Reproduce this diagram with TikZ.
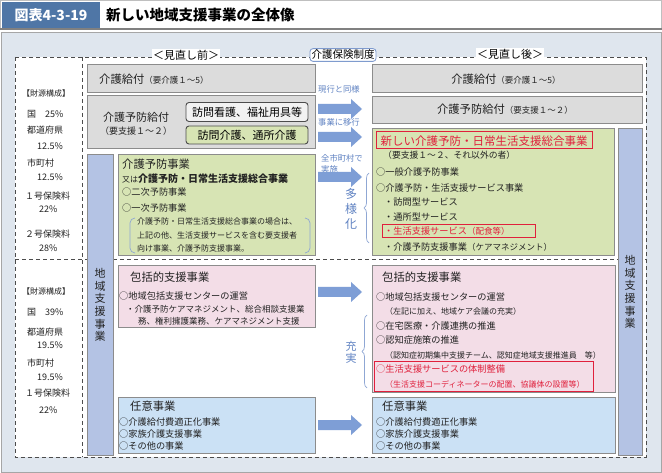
\documentclass[tikz,border=0pt]{standalone}
\usepackage{fontspec}
\setmainfont{Noto Sans CJK JP}
\usetikzlibrary{fit,decorations.pathreplacing}
\definecolor{titleblue}{HTML}{4F76A6}
\definecolor{panelbg}{HTML}{DFE6EE}
\definecolor{boxgray}{HTML}{DCDCDC}
\definecolor{boxgreen}{HTML}{D7E4B4}
\definecolor{boxpink}{HTML}{F3DDE7}
\definecolor{boxblue}{HTML}{CBE1F5}
\definecolor{barblue}{HTML}{B4C3E4}
\definecolor{arrowblue}{HTML}{7E9ED6}
\definecolor{notetext}{HTML}{5F82C2}
\definecolor{alertred}{HTML}{E0203C}
\definecolor{edgegray}{HTML}{8C8C8C}
\definecolor{inktext}{HTML}{222222}
\newcommand\fsz[1]{\fontsize{#1}{#1}\selectfont}
\tikzset{
  plate/.style={inner sep=0pt, draw=edgegray, line width=.8pt, fit={#1}},
  tagbox/.style={inner sep=0pt, draw=#1, line width=.9pt, rounded corners=3pt},
  alertbox/.style={inner sep=0pt, draw=alertred, line width=1pt, fit={#1}},
  fence/.style={draw=black!70, line width=.6pt, dash pattern=on 4pt off 3pt},
  txthead/.style={anchor=west, inner sep=0pt, text=inktext, font=\fsz{11.3}},
  txtbody/.style={anchor=west, inner sep=0pt, text=inktext, font=\fsz{9.2}},
  txtsmall/.style={anchor=west, inner sep=0pt, text=inktext, font=\fsz{8}},
  txtfin/.style={anchor=west, inner sep=0pt, text=inktext, font=\fsz{9}},
  txtnote/.style={anchor=west, inner sep=0pt, text=notetext, font=\fsz{8.3}},
  txtvert/.style={inner sep=0pt, align=center, text=#1, font=\fontsize{11}{12.6}\selectfont},
  txtvert/.default=inktext,
  bracketline/.style={draw=notetext!70, line width=.7pt},
  bracenote/.style={draw=notetext!70, line width=.7pt, decorate,
    decoration={brace, amplitude=5pt}},
  fatarrow/.pic={
    \fill[arrowblue] (0,-5) -- (33,-5) -- (33,-10) -- (44,0) -- (33,10) -- (33,5) -- (0,5) -- cycle;
  },
}

\begin{document}
\begin{tikzpicture}[x=1pt,y=-1pt]
\useasboundingbox (0,0) rectangle (662,473);

% title row
\draw[gray!50] (0.5,0.5) rectangle (661.5,29);
\draw[gray, line width=1.2pt] (0,29) -- (662,29);
\node[fill=titleblue, minimum width=98pt, minimum height=26pt, inner sep=0pt,
  text=white, font=\bfseries\fsz{14}] (tag) at (51,15) {図表4-3-19};
\node[anchor=west, inner sep=0pt, font=\bfseries\fsz{14.5}] (title) at (106,15) {新しい地域支援事業の全体像};

% panel and dashed frame
\node[plate={(1,32) (661,472)}, fill=panelbg, draw=gray!70] (panel) {};
\draw[fence, fill=white] (15,57) rectangle (646,457);
\draw[fence] (82,57) -- (82,457) (15,259) -- (646,259);
\node[fill=white, inner sep=1pt, font=\fsz{11}] (before) at (186,55) {＜見直し前＞};
\node[fill=white, inner sep=1pt, font=\fsz{11}] (after) at (510,54) {＜見直し後＞};
\node[tagbox=notetext!80, fill=white, inner sep=1.5pt, font=\fsz{10.5}] (seido) at (343,55) {介護保険制度};

% finance, upper
\node[txtsmall] (finA0) at (22,93) {【財源構成】};
\node[txtfin] (finA1) at (27,114) {国\quad 25\%};
\node[txtfin] (finA2) at (27,130) {都道府県};
\node[txtfin] (finA3) at (37,146) {12.5\%};
\node[txtfin] (finA4) at (27,163) {市町村};
\node[txtfin] (finA5) at (37,177) {12.5\%};
\node[txtfin] (finA6) at (25,196) {１号保険料};
\node[txtfin] (finA7) at (39,209) {22\%};
\node[txtfin] (finA8) at (25,234) {２号保険料};
\node[txtfin] (finA9) at (39,248) {28\%};
% finance, lower
\node[txtsmall] (finB0) at (22,291) {【財源構成】};
\node[txtfin] (finB1) at (27,312) {国\quad 39\%};
\node[txtfin] (finB2) at (27,332) {都道府県};
\node[txtfin] (finB3) at (37,345) {19.5\%};
\node[txtfin] (finB4) at (27,363) {市町村};
\node[txtfin] (finB5) at (37,377) {19.5\%};
\node[txtfin] (finB6) at (25,393) {１号保険料};
\node[txtfin] (finB7) at (39,410) {22\%};

% before
\node[plate={(87,64) (315,92)}, fill=boxgray] (kyufuPre) {};
\node[txthead] (kyufuPreT) at (99,79) {介護給付\fsz{8.5}（要介護１～5）};
\node[plate={(87,95) (315,148)}, fill=boxgray] (yoboPre) {};
\node[inner sep=0pt, align=center, text=inktext, font=\fontsize{11}{12.5}\selectfont] (yoboPreT) at (136,124)
  {介護予防給付\\{\fsz{9}（要支援１～２）}};
\node[tagbox=black!70, fill=black!5, minimum width=122pt, minimum height=19pt, font=\fsz{11}] (homonA) at (247,112) {訪問看護、福祉用具等};
\node[tagbox=black!70, fill=boxgreen, minimum width=122pt, minimum height=18pt, font=\fsz{11}] (homonB) at (247,135) {訪問介護、通所介護};

\node[plate={(87,154) (113,455)}, fill=barblue] (chiikiPre) {};
\node[txtvert] (chiikiPreT) at (100,305) {地\\域\\支\\援\\事\\業};

\node[plate={(118,154) (315,255)}, fill=boxgreen] (yoboJigyo) {};
\node[txthead] (yoboJigyo1) at (122,164) {介護予防事業};
\node[txtbody] (yoboJigyo2) at (122,179) {\fsz{8}又は\bfseries\fsz{10}介護予防・日常生活支援総合事業};
\node[txtbody] (yoboJigyo3) at (122,192) {○二次予防事業};
\node[txtbody] (yoboJigyo4) at (122,208) {○一次予防事業};
\draw[bracketline] (135,218) to[out=180,in=90] (130,223) -- (130,248) to[out=-90,in=180] (135,253);
\draw[bracketline] (305,218) to[out=0,in=90] (310,223) -- (310,248) to[out=-90,in=0] (305,253);
\node[txtsmall] (yoboJigyo5) at (137,221) {介護予防・日常生活支援総合事業の場合は、};
\node[txtsmall] (yoboJigyo6) at (137,235) {上記の他、生活支援サービスを含む要支援者};
\node[txtsmall] (yoboJigyo7) at (137,248) {向け事業、介護予防支援事業。};

\node[plate={(118,265) (315,327)}, fill=boxpink] (hokatsuPre) {};
\node[txthead] (hokatsuPre1) at (130,277) {包括的支援事業};
\node[txtbody] (hokatsuPre2) at (119,296) {○地域包括支援センターの運営};
\node[txtsmall, font=\fsz{8.5}] (hokatsuPre3) at (126,309) {・介護予防ケアマネジメント、総合相談支援業};
\node[txtsmall, font=\fsz{8.5}] (hokatsuPre4) at (138,321) {務、権利擁護業務、ケアマネジメント支援};

\node[plate={(118,397) (315,453)}, fill=boxblue] (niniPre) {};
\node[txthead] (niniPre1) at (130,406) {任意事業};
\node[txtbody] (niniPre2) at (119,422) {○介護給付費適正化事業};
\node[txtbody] (niniPre3) at (119,434) {○家族介護支援事業};
\node[txtbody] (niniPre4) at (119,446) {○その他の事業};

% middle
\node[txtnote] (note1) at (318,89) {現行と同様};
\node[txtnote] (note2) at (318,122) {事業に移行};
\node[txtnote] (note3) at (321,158) {全市町村で};
\node[txtnote] (note4) at (321,169) {実施};
\pic at (318,109) {fatarrow};
\pic at (318,137) {fatarrow};
\pic at (318,177) {fatarrow};
\pic at (318,292) {fatarrow};
\pic at (318,425) {fatarrow};
\draw[bracenote] (369,243) -- (369,173);
\node[txtvert=notetext, font=\fontsize{12}{15}\selectfont] (tayoka) at (351,209) {多\\様\\化};
\draw[bracenote] (367,388) -- (367,315);
\node[txtvert=notetext, font=\fontsize{11}{12}\selectfont] (jujitsu) at (351,352) {充\\実};

% after
\node[plate={(372,64) (642,92)}, fill=boxgray] (kyufuPost) {};
\node[inner sep=0pt, text=inktext, font=\fsz{11.3}] (kyufuPostT) at (506,79) {介護給付\fsz{8.5}（要介護１～5）};
\node[plate={(372,96) (642,123)}, fill=boxgray] (yoboPost) {};
\node[inner sep=0pt, text=inktext, font=\fsz{11.3}] (yoboPostT) at (505,109) {介護予防給付\fsz{8.5}（要支援１～２）};

\node[plate={(618,128) (642,455)}, fill=barblue] (chiikiPost) {};
\node[txtvert] (chiikiPostT) at (630,292) {地\\域\\支\\援\\事\\業};

\node[plate={(372,128) (614,255)}, fill=boxgreen] (sogo) {};
\node[alertbox={(376,132) (592,149)}] (sogoFrame) {};
\node[inner sep=0pt, text=alertred, font=\fsz{11.5}] (sogo1) at (484,141) {新しい介護予防・日常生活支援総合事業};
\node[txtbody, font=\fsz{8.8}] (sogo2) at (383,155) {（要支援１～２、それ以外の者）};
\node[txtbody] (sogo3) at (376,172) {○一般介護予防事業};
\node[txtbody] (sogo4) at (376,188) {○介護予防・生活支援サービス事業};
\node[txtbody] (sogo5) at (384,202) {・訪問型サービス};
\node[txtbody] (sogo6) at (384,217) {・通所型サービス};
\node[alertbox={(382,225) (535,238)}] (haishokuFrame) {};
\node[txtbody, text=alertred] (sogo7) at (384,231) {・生活支援サービス\fsz{8.5}（配食等）};
\node[txtbody] (sogo8) at (384,247) {・介護予防支援事業\fsz{8.5}（ケアマネジメント）};

\node[plate={(372,265) (615,392)}, fill=boxpink] (hokatsuPost) {};
\node[txthead] (hokatsuPost1) at (382,277) {包括的支援事業};
\node[txtbody] (hokatsuPost2) at (376,297) {○地域包括支援センターの運営};
\node[txtsmall] (hokatsuPost3) at (385,311) {（左記に加え、地域ケア会議の充実）};
\node[txtbody] (hokatsuPost4) at (376,326) {○在宅医療・介護連携の推進};
\node[txtbody] (hokatsuPost5) at (376,340) {○認知症施策の推進};
\node[txtsmall] (hokatsuPost6) at (385,355) {（認知症初期集中支援チーム、認知症地域支援推進員　等）};
\node[alertbox={(374,362) (593,391)}] (taiseiFrame) {};
\node[txtbody, text=alertred] (hokatsuPost7) at (376,369) {○生活支援サービスの体制整備};
\node[txtsmall, text=alertred] (hokatsuPost8) at (385,384) {（生活支援コーディネーターの配置、協議体の設置等）};

\node[plate={(372,397) (615,453)}, fill=boxblue] (niniPost) {};
\node[txthead] (niniPost1) at (382,406) {任意事業};
\node[txtbody] (niniPost2) at (376,422) {○介護給付費適正化事業};
\node[txtbody] (niniPost3) at (376,434) {○家族介護支援事業};
\node[txtbody] (niniPost4) at (376,446) {○その他の事業};
\end{tikzpicture}
\end{document}
